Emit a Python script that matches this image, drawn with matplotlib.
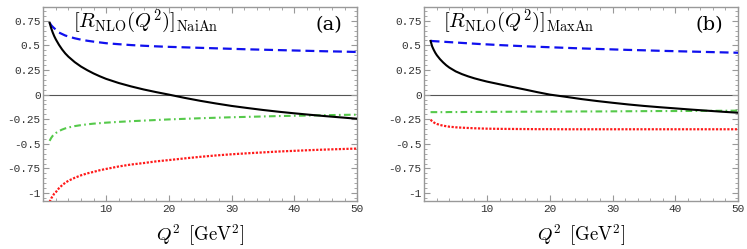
import matplotlib
matplotlib.use("Agg")
import matplotlib.pyplot as plt
from matplotlib.ticker import MultipleLocator, FixedLocator

plt.rcParams['mathtext.fontset'] = 'cm'

q2 = [1, 1.25, 1.5, 1.75, 2, 2.5, 3, 3.5, 4, 5, 6, 7, 8, 9, 10, 12, 14, 16, 18, 20,
      22.5, 25, 27.5, 30, 32.5, 35, 37.5, 40, 42.5, 45, 47.5, 50]

# Panel (a) NaiAn
a_total = [0.73, 0.675, 0.63, 0.592, 0.56, 0.505, 0.458, 0.418, 0.385, 0.33, 0.285,
           0.248, 0.215, 0.186, 0.16, 0.118, 0.083, 0.052, 0.025, 0.0, -0.033, -0.063,
           -0.09, -0.115, -0.136, -0.156, -0.174, -0.19, -0.205, -0.219, -0.232, -0.245]
a_blue = [0.73, 0.705, 0.688, 0.673, 0.66, 0.63, 0.615, 0.60, 0.59, 0.572, 0.558, 0.547,
          0.538, 0.53, 0.522, 0.512, 0.503, 0.496, 0.49, 0.485, 0.48, 0.475, 0.47,
          0.465, 0.46, 0.456, 0.452, 0.448, 0.444, 0.44, 0.437, 0.433]
a_green = [-0.47, -0.44, -0.418, -0.402, -0.39, -0.37, -0.355, -0.343, -0.334, -0.32,
           -0.31, -0.302, -0.295, -0.29, -0.285, -0.277, -0.27, -0.264, -0.258, -0.252,
           -0.246, -0.24, -0.235, -0.23, -0.226, -0.222, -0.218, -0.215, -0.212,
           -0.209, -0.206, -0.204]
a_red = [-1.09, -1.055, -1.03, -1.005, -0.99, -0.95, -0.92, -0.895, -0.875, -0.845,
         -0.82, -0.80, -0.785, -0.768, -0.755, -0.73, -0.71, -0.695, -0.678, -0.665,
         -0.648, -0.632, -0.618, -0.606, -0.596, -0.587, -0.578, -0.571, -0.564,
         -0.558, -0.553, -0.548]

# Panel (b) MaxAn
b_total = [0.545, 0.49, 0.455, 0.425, 0.40, 0.36, 0.327, 0.298, 0.274, 0.236, 0.208,
           0.185, 0.165, 0.148, 0.132, 0.105, 0.078, 0.052, 0.025, 0.0, -0.022, -0.045,
           -0.065, -0.083, -0.1, -0.115, -0.128, -0.14, -0.152, -0.163, -0.174, -0.184]
b_blue = [0.545, 0.544, 0.543, 0.542, 0.541, 0.539, 0.537, 0.535, 0.533, 0.529, 0.525,
          0.521, 0.517, 0.513, 0.51, 0.503, 0.497, 0.491, 0.486, 0.481, 0.475, 0.469,
          0.464, 0.459, 0.454, 0.45, 0.445, 0.441, 0.437, 0.433, 0.429, 0.425]
b_green = [-0.178, -0.178, -0.178, -0.178, -0.178, -0.178, -0.178, -0.178, -0.177,
           -0.177, -0.177, -0.176, -0.176, -0.176, -0.175, -0.175, -0.174, -0.174,
           -0.173, -0.173, -0.172, -0.171, -0.171, -0.17, -0.169, -0.168, -0.167,
           -0.167, -0.166, -0.165, -0.164, -0.163]
b_red = [-0.255, -0.27, -0.282, -0.291, -0.298, -0.308, -0.316, -0.321, -0.326, -0.332,
         -0.336, -0.339, -0.342, -0.344, -0.346, -0.348, -0.349, -0.35, -0.351, -0.351,
         -0.352, -0.352, -0.352, -0.352, -0.352, -0.352, -0.352, -0.352, -0.352,
         -0.352, -0.352, -0.352]

panels = [
    (r'$[R_{\mathrm{NLO}}(Q^2)]_{\mathrm{NaiAn}}$', '(a)', a_total, a_blue, a_green, a_red, 0.095),
    (r'$[R_{\mathrm{NLO}}(Q^2)]_{\mathrm{MaxAn}}$', '(b)', b_total, b_blue, b_green, b_red, 0.06),
]

ytick_vals = [-1, -0.75, -0.5, -0.25, 0, 0.25, 0.5, 0.75]
ytick_labels = ['-1', '-0.75', '-0.5', '-0.25', '0', '0.25', '0.5', '0.75']
xtick_vals = [10, 20, 30, 40, 50]
xtick_labels = ['10', '20', '30', '40', '50']

fig = plt.figure(figsize=(7.47, 2.49), dpi=100)
lefts = [0.058, 0.568]
frame_col = '#999999'
mono = 'Liberation Mono'

for (title, tag, tot, blue, green, red, tx), left in zip(panels, lefts):
    ax = fig.add_axes([left, 0.193, 0.420, 0.779])
    ax.set_xlim(0, 50)
    ax.set_ylim(-1.08, 0.89)
    ax.axhline(0, color='#555555', lw=0.8, zorder=1)
    ax.plot(q2, blue, color='#1010ee', lw=1.6, dashes=(4, 2.2), zorder=3)
    ax.plot(q2, green, color='#55c94a', lw=1.5, dashes=(3.2, 1.6, 0.8, 1.6), zorder=3)
    ax.plot(q2, red, color='#ff1a1a', lw=1.6, dashes=(1.0, 0.7), zorder=3)
    ax.plot(q2, tot, color='black', lw=1.5, zorder=4)

    for s in ax.spines.values():
        s.set_color(frame_col)
        s.set_linewidth(1.0)
    ax.yaxis.set_major_locator(FixedLocator(ytick_vals))
    ax.set_yticklabels(ytick_labels)
    ax.yaxis.set_minor_locator(MultipleLocator(0.05))
    ax.xaxis.set_major_locator(FixedLocator(xtick_vals))
    ax.set_xticklabels(xtick_labels)
    ax.xaxis.set_minor_locator(MultipleLocator(2))
    ax.tick_params(which='both', direction='in', top=True, right=True, color=frame_col,
                   labelsize=8, labelcolor='#333333', pad=2)
    ax.tick_params(which='major', length=4, width=0.8)
    ax.tick_params(which='minor', length=2, width=0.6)
    for lab in ax.get_xticklabels() + ax.get_yticklabels():
        lab.set_family(mono)

    ax.set_xlabel(r'$Q^2\ \,[\mathrm{GeV}^2]$', fontsize=13.5, labelpad=6)
    ax.text(tx, 0.893, title, transform=ax.transAxes, fontsize=14.8, va='baseline', ha='left')
    ax.text(0.91, 0.905, tag, transform=ax.transAxes, fontsize=14, va='center', ha='center',
            family='DejaVu Serif')

fig.savefig('out.png', dpi=100)
